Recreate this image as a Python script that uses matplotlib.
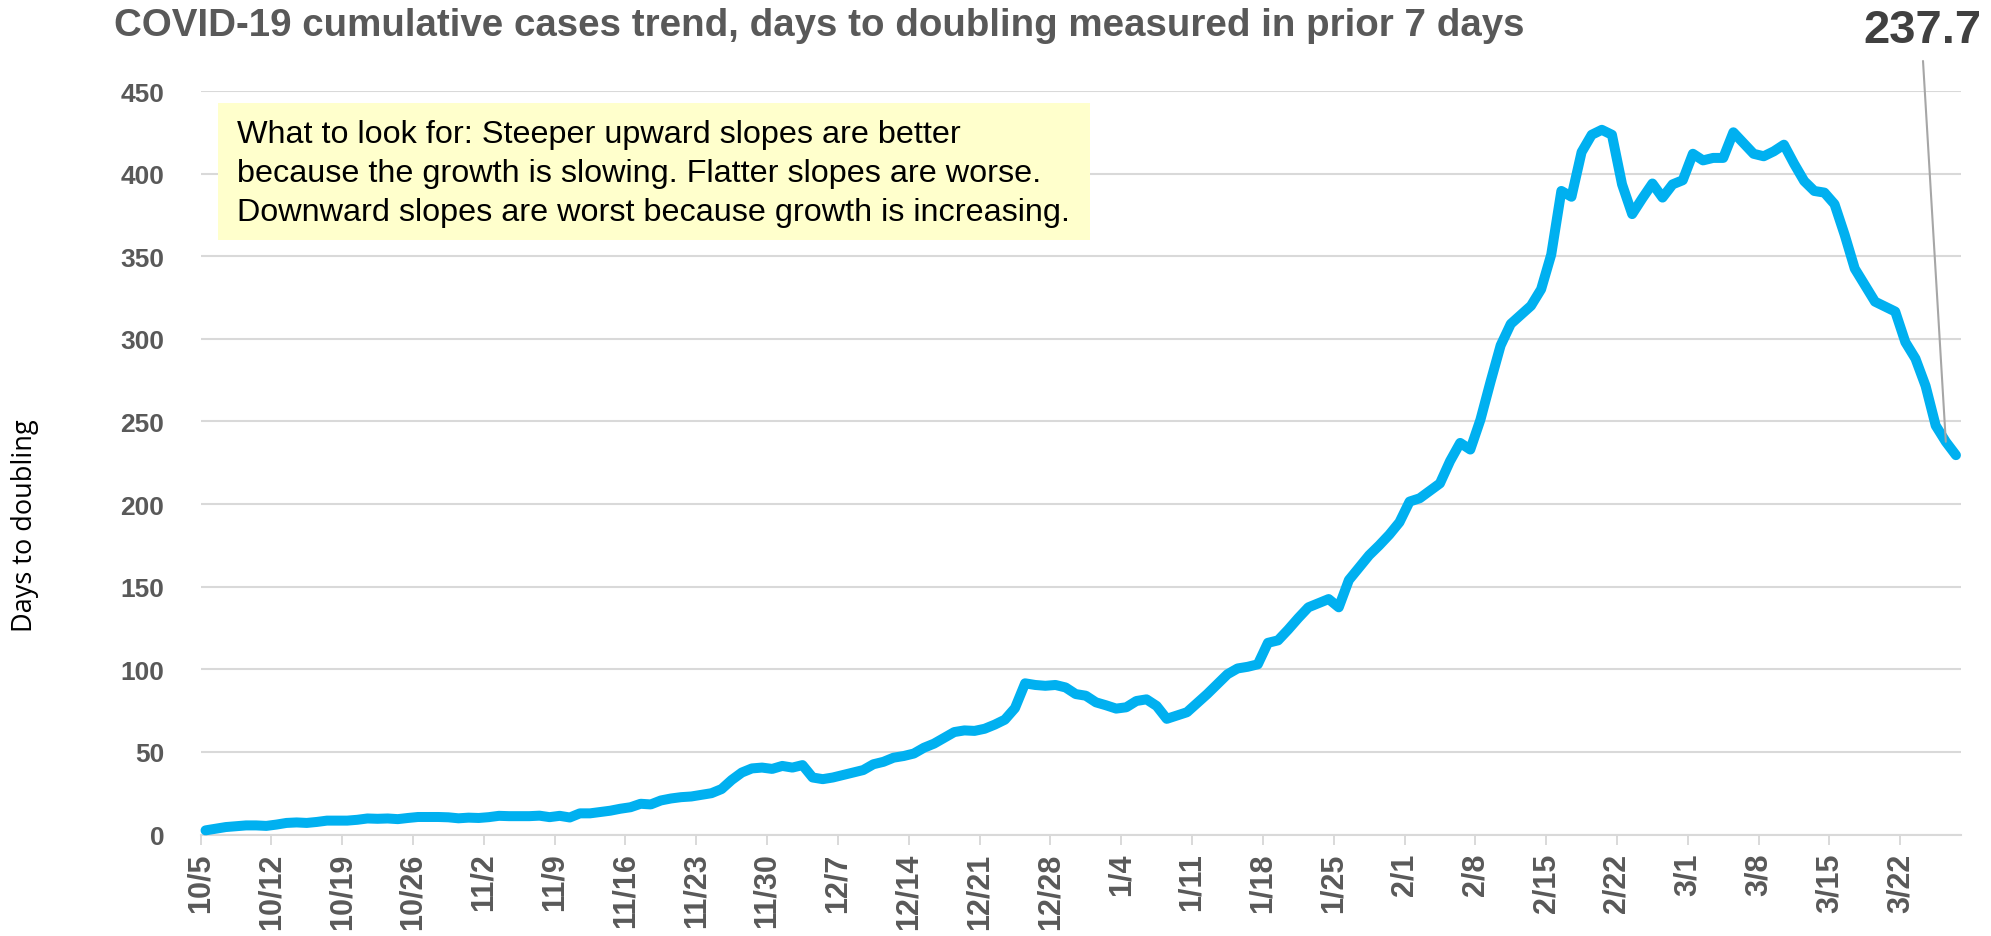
import matplotlib
matplotlib.use("Agg")
import matplotlib.pyplot as plt
from matplotlib.patches import Rectangle
import numpy as np
import pandas as pd

# days to doubling, one value per day starting 10/5
start_date = "2020-10-05"
doubling_days = [
    2.5, 3.5, 4.5, 5.0, 5.5, 5.5, 5.2, 6.0, 7.0, 7.3,
    7.0, 7.6, 8.4, 8.4, 8.4, 8.9, 9.7, 9.5, 9.7, 9.3,
    10.0, 10.6, 10.6, 10.6, 10.4, 9.8, 10.2, 10.0, 10.5, 11.3,
    11.1, 11.1, 11.1, 11.4, 10.5, 11.3, 10.3, 12.8, 12.8, 13.6,
    14.4, 15.6, 16.5, 18.6, 18.2, 20.6, 21.8, 22.6, 23.0, 24.0,
    25.0, 27.5, 33.0, 37.5, 40.0, 40.5, 39.7, 41.5, 40.5, 42.0,
    34.5, 33.5, 34.5, 36.0, 37.5, 39.0, 42.5, 44.0, 46.5, 47.5,
    49.0, 52.5, 55.0, 58.5, 62.0, 63.0, 62.7, 64.0, 66.5, 69.5,
    76.5, 91.5, 90.5, 90.0, 90.5, 89.0, 85.0, 84.0, 80.0, 78.2,
    76.2, 77.0, 80.8, 81.8, 77.8, 70.0, 72.0, 74.0, 79.5, 85.0,
    91.0, 97.0, 100.5, 101.5, 103.0, 116.0, 117.5, 124.0, 131.0, 137.5,
    140.0, 142.5, 137.5, 154.0, 161.5, 169.0, 175.0, 181.5, 189.0, 201.5,
    203.5, 208.0, 212.5, 226.0, 237.0, 233.0, 251.0, 274.0, 296.0, 309.0,
    314.5, 320.0, 330.0, 351.0, 389.5, 386.0, 413.0, 423.5, 426.5, 423.5,
    393.5, 375.5, 385.0, 394.0, 385.5, 393.5, 396.0, 412.0, 408.0, 409.5,
    409.5, 425.0, 418.5, 412.0, 410.5, 413.5, 417.5, 406.0, 395.5, 389.5,
    388.5, 381.5, 363.0, 342.5, 332.5, 322.5, 319.5, 316.5, 298.0, 288.0,
    271.5, 247.5, 237.7, 229.6,
]
tick_labels = ["10/5", "10/12", "10/19", "10/26", "11/2", "11/9", "11/16",
               "11/23", "11/30", "12/7", "12/14", "12/21", "12/28", "1/4",
               "1/11", "1/18", "1/25", "2/1", "2/8", "2/15", "2/22", "3/1",
               "3/8", "3/15", "3/22"]
y_ticks = [0, 50, 100, 150, 200, 250, 300, 350, 400, 450]
callout_value = 237.7
note = ("What to look for: Steeper upward slopes are better\n"
        "because the growth is slowing. Flatter slopes are worse.\n"
        "Downward slopes are worst because growth is increasing.")

W, H = 1991, 937
dates = pd.date_range(start_date, periods=len(doubling_days), freq="D")
n = len(dates)
x = np.arange(n) + 0.5  # points sit between the daily tick slots

fig = plt.figure(figsize=(W / 100, H / 100), dpi=100)
ax = fig.add_axes([200.5 / W, (H - 835.5) / H, (1961 - 200.5) / W, (835.5 - 92) / H])

grid_col = "#D9D9D9"
txt_col = "#595959"

ax.plot(x, doubling_days, color="#00B0F0", lw=7.2, solid_joinstyle="round",
        solid_capstyle="round", clip_on=False, zorder=3)

ax.set_xlim(0, n)
ax.set_ylim(0, 450)
ax.set_yticks(y_ticks)
ax.set_xticks(np.arange(0, n, 7)[:len(tick_labels)])
ax.set_xticklabels(tick_labels, rotation=90, fontsize=22, fontweight="bold",
                   color=txt_col, family="Liberation Sans")
ax.set_yticklabels([str(v) for v in y_ticks], fontsize=19, fontweight="bold",
                   color=txt_col, family="Liberation Sans")
ax.tick_params(axis="x", direction="out", length=7, width=1.4, color=grid_col, pad=6)
ax.tick_params(axis="y", length=0, pad=26)
ax.grid(axis="y", color=grid_col, lw=1.5)
ax.set_axisbelow(True)
for s in ["top", "right", "left"]:
    ax.spines[s].set_visible(False)
ax.spines["bottom"].set_color(grid_col)
ax.spines["bottom"].set_linewidth(1.5)

# title and axis label
fig.text(114 / W, 1 - 36.5 / H, "COVID-19 cumulative cases trend, days to doubling measured in prior 7 days",
         fontsize=27.7, fontweight="bold", color=txt_col, family="Liberation Sans",
         ha="left", va="baseline")
fig.text(25 / W, 1 - 526 / H, "Days to doubling", rotation=90, fontsize=19.5,
         family="Open Sans", color="black", ha="center", va="center")

# yellow note box
fig.patches.append(Rectangle((218 / W, 1 - 241 / H), 872 / W, 137 / H,
                             transform=fig.transFigure, facecolor="#FFFFCC",
                             edgecolor="none", zorder=1))
fig.text(237 / W, 1 - 174 / H, note, fontsize=23.3, family="Liberation Sans",
         color="black", ha="left", va="center", linespacing=1.37, zorder=2)

# last value callout
fig.text(1922 / W, 1 - 31 / H, f"{callout_value}", fontsize=34, fontweight="bold",
         color="#404040", family="Liberation Sans", ha="center", va="center")
ax.annotate("", xy=(x[-2], doubling_days[-2]), xytext=(1923, H - 62),
            textcoords="figure pixels",
            arrowprops=dict(arrowstyle="-", color="#A6A6A6", lw=1.5, shrinkA=0, shrinkB=0),
            zorder=5, annotation_clip=False)

fig.savefig("out.png", dpi=100)
plt.close(fig)
